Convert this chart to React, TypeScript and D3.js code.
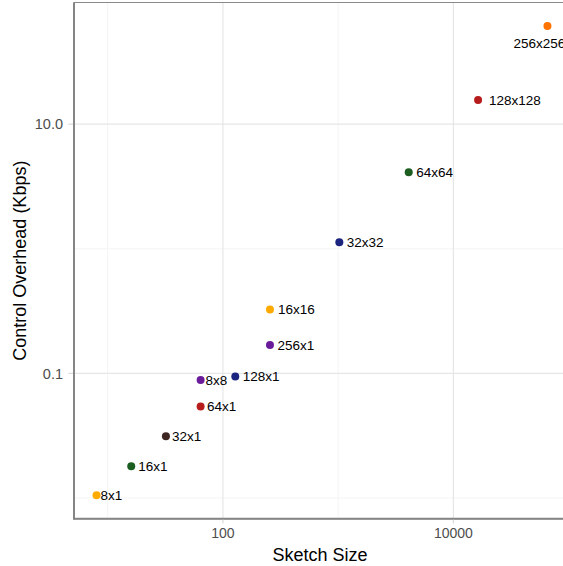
import React from "react";
import * as d3 from "d3";

const labels = ["8x1", "16x1", "32x1", "64x1", "8x8", "128x1", "256x1", "16x16", "32x32", "64x64", "128x128", "256x256"];
const sketchSize = [8, 16, 32, 64, 64, 128, 256, 256, 1024, 4096, 16384, 65536];
const overhead = [0.0105, 0.018, 0.0313, 0.0543, 0.0884, 0.0946, 0.1687, 0.326, 1.13, 4.12, 15.6, 61.4];
const colors = ["#FFAA00", "#1B5E20", "#3E2723", "#B71C1C", "#6A1B9A", "#1A237E", "#6A1B9A", "#FFAA00", "#1A237E", "#1B5E20", "#B71C1C", "#FF7300"];
const xTicks = [100, 10000];
const xMinor = [10, 1000, 100000];
const yTicks = [0.1, 10];
const yTickLabels = ["0.1", "10.0"];
const yMinor = [0.01, 1, 100];
// label nudges (dx, dy) as placed by the label repeller
const labelDx = [4, 7, 6, 6.5, 5, 7.5, 7.5, 8, 7.5, 7.5, 11, -34];
const labelDy = [0, 0, 0, 0, 0, 0, 0, 0, 0, 0, 0, 17];

const W = 563;
const H = 566;
const left = 74;
const right = 570;
const top = 2.5;
const bottom = 518.8;

export default function App() {
  const lx = sketchSize.map((v) => Math.log10(v));
  const ly = overhead.map((v) => Math.log10(v));
  const [x0, x1] = d3.extent(lx) as [number, number];
  const [y0, y1] = d3.extent(ly) as [number, number];
  const ex = (x1 - x0) * 0.05;
  const ey = (y1 - y0) * 0.05;
  const x = d3.scaleLog().domain([Math.pow(10, x0 - ex), Math.pow(10, x1 + ex)]).range([left, right]);
  const y = d3.scaleLog().domain([Math.pow(10, y0 - ey), Math.pow(10, y1 + ey)]).range([bottom, top]);

  const font = "'Liberation Sans', Arial, Helvetica, sans-serif";
  return (
    <svg width={W} height={H} style={{ position: "absolute", left: 0, top: 0, background: "#fff" }} fontFamily={font}>
      <defs>
        <clipPath id="panel">
          <rect x={left} y={top} width={right - left} height={bottom - top} />
        </clipPath>
      </defs>
      <g clipPath="url(#panel)">
        {xMinor.map((t) => (
          <line key={"xm" + t} x1={x(t)} x2={x(t)} y1={top} y2={bottom} stroke="#f4f4f4" strokeWidth={1} />
        ))}
        {yMinor.map((t) => (
          <line key={"ym" + t} x1={left} x2={right} y1={y(t)} y2={y(t)} stroke="#f4f4f4" strokeWidth={1} />
        ))}
        {xTicks.map((t) => (
          <line key={"xg" + t} x1={x(t)} x2={x(t)} y1={top} y2={bottom} stroke="#e6e6e6" strokeWidth={1.2} />
        ))}
        {yTicks.map((t) => (
          <line key={"yg" + t} x1={left} x2={right} y1={y(t)} y2={y(t)} stroke="#e6e6e6" strokeWidth={1.2} />
        ))}
      </g>
      {/* panel border */}
      <rect x={left} y={top} width={right - left} height={bottom - top} fill="none" stroke="#8a8a8a" strokeWidth={1} />
      <line x1={left} x2={right} y1={bottom} y2={bottom} stroke="#858585" strokeWidth={2} />
      <line x1={left} x2={left} y1={top} y2={bottom + 1} stroke="#858585" strokeWidth={2} />
      {/* ticks */}
      {xTicks.map((t) => (
        <g key={"xt" + t}>
          <line x1={x(t)} x2={x(t)} y1={bottom + 1} y2={bottom + 4.5} stroke="#d9d9d9" strokeWidth={1.2} />
          <text x={x(t)} y={537.5} textAnchor="middle" fontSize={14} fill="#4d4d4d">
            {String(t)}
          </text>
        </g>
      ))}
      {yTicks.map((t, i) => (
        <g key={"yt" + t}>
          <line x1={left - 5.5} x2={left - 1} y1={y(t)} y2={y(t)} stroke="#d9d9d9" strokeWidth={1.2} />
          <text x={63} y={y(t)} dy="0.36em" textAnchor="end" fontSize={14.5} fill="#4d4d4d">
            {yTickLabels[i]}
          </text>
        </g>
      ))}
      {/* points */}
      {labels.map((l, i) => (
        <circle key={"p" + l} cx={x(sketchSize[i])} cy={y(overhead[i])} r={4} fill={colors[i]} />
      ))}
      {labels.map((l, i) => (
        <text
          key={"l" + l}
          x={x(sketchSize[i]) + labelDx[i]}
          y={y(overhead[i]) + labelDy[i]}
          dy="0.36em"
          fontSize={13.5}
          fill="#000"
        >
          {l}
        </text>
      ))}
      {/* axis titles */}
      <text x={(left + right) / 2 - 2} y={561} textAnchor="middle" fontSize={18} fill="#000">
        Sketch Size
      </text>
      <text
        transform={`translate(25.5, ${(top + bottom) / 2}) rotate(-90)`}
        textAnchor="middle"
        fontSize={18}
        fill="#000"
      >
        Control Overhead (Kbps)
      </text>
    </svg>
  );
}
